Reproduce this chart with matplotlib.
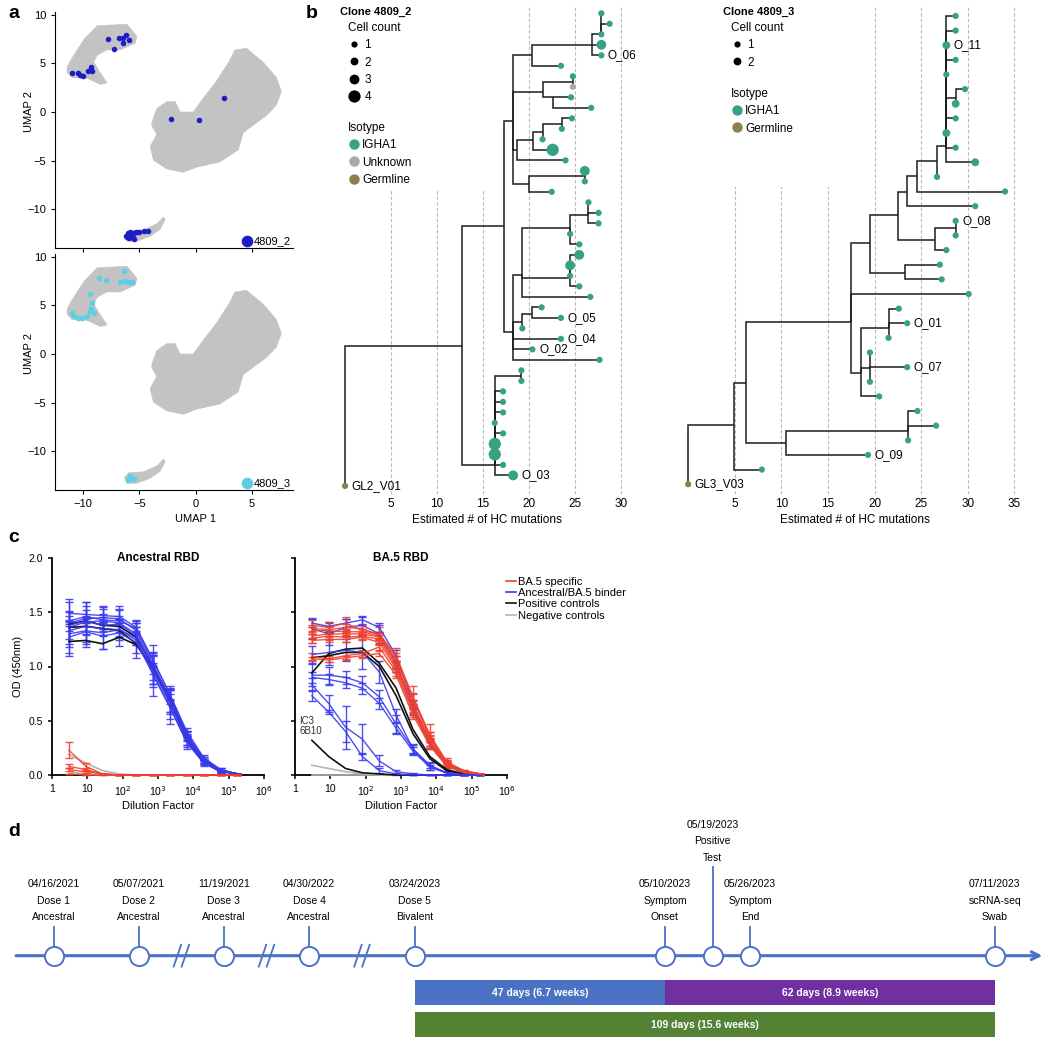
import numpy as np
import matplotlib
matplotlib.use('Agg')
import matplotlib.pyplot as plt
from matplotlib.lines import Line2D
from matplotlib.patches import Rectangle
from matplotlib.ticker import NullLocator
import pandas as pd

plt.rcParams['font.family'] = ['Liberation Sans', 'DejaVu Sans']
plt.rcParams['font.size'] = 8

# ---------------- panel a : UMAP ----------------
# gray cell clouds, outlines
cloud_x = [
    [-11.42, -11.12, -9.94, -8.76, -6.11, -5.22, -5.37, -6.7, -7.88, -8.76, -9.06, -8.6, -7.88, -8.47, -9.65, -10.97, -11.42],
    [-3.89, -3.45, -2.57, -1.83, -1.39, -0.21, 0.68, 1.86, 3.04, 3.48, 4.51, 5.99, 7.17, 7.61, 7.17, 6.28, 4.22, 3.78, 2.15, 0.09, -1.09, -2.57, -3.75, -4.04, -3.45, -3.89],
    [-6.34, -5.96, -4.63, -3.45, -2.86, -2.71, -3.16, -4.04, -5.22, -6.11],
]
cloud_y = [
    [4.6, 5.3, 7.45, 8.87, 9.04, 7.8, 7.1, 6.4, 6.4, 5.85, 5.14, 4.26, 3.0, 2.84, 3.48, 3.55, 4.08],
    [-1.06, 0.35, 1.06, 1.06, 0.0, 0.0, 1.42, 3.19, 5.32, 6.38, 6.56, 5.14, 3.55, 2.13, 0.71, -0.35, -2.13, -3.9, -5.14, -5.67, -6.2, -5.85, -4.96, -3.55, -2.3, -1.42],
    [-12.77, -12.23, -12.13, -11.52, -10.82, -11.06, -12.06, -12.77, -13.3, -13.3],
]
clone2_x = [-7.8, -7.3, -6.8, -6.5, -6.2, -6.45, -5.95, -11.0, -10.5, -10.25, -10.0, -9.6, -9.3, -9.2,
            -2.2, 0.3, 2.55, -6.2, -6.0, -5.8, -5.6, -5.5, -5.9, -6.1, -5.7, -5.3, -5.0, -4.6, -4.2, -5.5]
clone2_y = [7.55, 6.45, 7.6, 7.6, 7.9, 7.1, 7.45, 4.0, 4.0, 3.8, 3.7, 4.2, 4.6, 4.25,
            -0.7, -0.8, 1.4, -12.8, -12.5, -12.4, -12.6, -13.1, -13.0, -12.9, -12.8, -12.4, -12.35, -12.3, -12.3, -12.5]
clone3_x = [-6.4, -8.6, -8.0, -6.7, -6.25, -5.95, -5.65, -9.35, -9.2, -9.35, -11.0, -10.5, -10.1, -9.7,
            -9.05, -9.3, -10.8, -5.65, -5.8, -5.5, -5.9, -6.0]
clone3_y = [8.5, 7.8, 7.6, 7.45, 7.5, 7.45, 7.4, 6.2, 5.3, 4.4, 4.25, 3.7, 3.7, 3.9,
            4.25, 4.6, 3.9, -12.75, -12.6, -12.9, -12.8, -13.0]

# ---------------- panel b : lineage trees ----------------
# internal nodes: name, parent, mutations, vertical position (tip rows)
node2_name = ['root', 'R1', 'T8', 'T4', 'T3', 'T2', 'T1', 'T5', 'T5a', 'T5b', 'T6', 'T6a', 'T6b', 'T6c',
              'T7', 'T7a', 'T9', 'T10', 'T10a', 'T10c', 'T10b', 'T11', 'T11a', 'T12', 'T12a']
node2_parent = [None, 'root', 'R1', 'T8', 'T4', 'T3', 'T2', 'T4', 'T5', 'T5', 'T4', 'T6', 'T6a', 'T6b',
                'T4', 'T7', 'T8', 'T9', 'T10', 'T10a', 'T10', 'T9', 'T11', 'R1', 'T12']
node2_mut = [0, 12.7, 17.3, 18.3, 20.3, 26.85, 27.9, 21.5, 24.8, 22.6, 18.7, 20.5, 21.5, 23.6,
             20.0, 26.1, 18.3, 19.3, 24.5, 26.5, 24.5, 19.3, 20.4, 16.3, 19.2]
node2_row = [45, 31.65, 20.3, 10.3, 4.0, 3.0, 2.0, 7.46, 6.5, 8.0, 13.0, 12.1, 11.3, 10.5,
             16.25, 15.5, 30.3, 24.9, 20.4, 19.2, 25.2, 29.4, 28.6, 43.0, 34.5]
# tips, top to bottom
tip2_parent = ['T1', 'T1', 'T1', 'T2', 'T2', 'T3', 'T5a', 'T5a', 'T5b', 'T5b',
               'T6c', 'T6c', 'T6b', 'T6a', 'T6', 'T7a', 'T7a', 'T7', 'T10c', 'T10c',
               'T10c', 'T10a', 'T10a', 'T10b', 'T10b', 'T10b', 'T10b', 'T10', 'T11a', 'T11a',
               'T11', 'T9', 'T9', 'T9', 'T12a', 'T12a', 'T12', 'T12', 'T12', 'T12',
               'T12', 'T12', 'T12', 'T12', 'T12', 'root']
tip2_mut = [27.9, 28.8, 27.9, 27.9, 27.9, 23.5, 24.8, 24.8, 24.6, 26.8,
            24.7, 23.6, 21.5, 22.6, 24.0, 26.1, 26.1, 22.5, 26.5, 27.6,
            27.6, 24.5, 25.5, 25.5, 24.5, 24.5, 25.5, 26.7, 21.4, 23.5,
            19.3, 23.5, 20.4, 27.7, 19.2, 19.2, 17.2, 17.2, 17.2, 16.3,
            17.2, 16.3, 16.3, 17.2, 18.3, 0]
tip2_count = [1, 1, 1, 3, 1, 1, 1, 1, 1, 1,
              1, 1, 1, 4, 1, 3, 1, 1, 1, 1,
              1, 1, 1, 3, 3, 1, 1, 1, 1, 1,
              1, 1, 1, 1, 1, 1, 1, 1, 1, 1,
              1, 4, 4, 1, 3, 1]
tip2_iso = list('AAAAAAAUAA' 'AAAAAAAAAA' 'AAAAAAAAAA' 'AAAAAAAAAA' 'AAAAAG')
tip2_lab_idx = [4, 29, 31, 32, 44, 45]
tip2_lab = ['O_06', 'O_05', 'O_04', 'O_02', 'O_03', 'GL2_V01']

node3_name = ['root', 'P', 'L', 'I', 'G', 'E', 'D', 'C', 'B', 'A', 'A1', 'F', 'F1', 'H', 'N', 'J', 'M', 'O', 'Q']
node3_parent = [None, 'root', 'P', 'L', 'I', 'G', 'E', 'D', 'C', 'B', 'A', 'E', 'F', 'G', 'I', 'N', 'N', 'L', 'O']
node3_mut = [0, 4.9, 6.2, 17.5, 19.5, 22.5, 23.5, 24.6, 26.7, 27.7, 28.7, 26.5, 28.7, 23.3, 18.5, 21.5, 19.5, 10.5, 23.6]
node3_row = [32, 27.96, 25.06, 20.9, 15.5, 13.6, 12.0, 10.96, 9.9, 8.9, 5.6, 15.3, 14.5, 17.6, 24.4, 21.3, 24.06, 29.2, 28.35]
tip3_parent = ['A', 'A', 'A', 'A', 'A', 'A1', 'A1', 'A', 'A', 'A',
               'A', 'B', 'C', 'D', 'F1', 'F1', 'F', 'H', 'H', 'I',
               'J', 'J', 'J', 'M', 'M', 'M', 'N', 'Q', 'Q', 'Q',
               'O', 'P', 'root']
tip3_mut = [28.7, 28.7, 27.7, 28.7, 27.7, 29.7, 28.7, 28.7, 27.7, 28.7,
            30.8, 26.7, 34.0, 30.8, 28.7, 28.7, 27.7, 27.0, 27.2, 30.1,
            22.6, 23.5, 21.5, 19.5, 23.5, 19.5, 20.5, 24.6, 26.6, 23.6,
            19.3, 7.9, 0]
tip3_count = [1, 1, 2, 1, 1, 1, 2, 1, 2, 1,
              2, 1, 1, 1, 1, 1, 1, 1, 1, 1,
              1, 1, 1, 1, 1, 1, 1, 1, 1, 1,
              1, 1, 1]
tip3_iso = list('AAAAAAAAAA' 'AAAAAAAAAA' 'AAAAAAAAAA' 'AAG')
tip3_lab_idx = [2, 14, 21, 24, 30, 32]
tip3_lab = ['O_11', 'O_08', 'O_01', 'O_07', 'O_09', 'GL3_V03']

iso_names = {'A': 'IGHA1', 'U': 'Unknown', 'G': 'Germline'}
iso_colors = {'A': '#36a184', 'U': '#a9a9a9', 'G': '#8e804c'}
count_size = {1: 20, 2: 32, 3: 50, 4: 78}

# ---------------- panel c : ELISA ----------------
dilution = [3, 9, 27, 81, 243, 729, 2187, 6561, 19683, 59049, 177147]

anc_binder = [
    [1.49, 1.48, 1.47, 1.46, 1.36, 1.06, 0.74, 0.40, 0.16, 0.05, 0.01],
    [1.40, 1.44, 1.45, 1.44, 1.33, 1.02, 0.70, 0.36, 0.14, 0.04, 0.01],
    [1.36, 1.41, 1.42, 1.40, 1.30, 1.00, 0.68, 0.34, 0.13, 0.04, 0.01],
    [1.30, 1.33, 1.31, 1.34, 1.24, 0.96, 0.66, 0.32, 0.12, 0.04, 0.01],
    [1.38, 1.42, 1.38, 1.39, 1.28, 0.98, 0.70, 0.35, 0.13, 0.04, 0.01],
    [1.27, 1.32, 1.28, 1.31, 1.22, 0.93, 0.63, 0.30, 0.11, 0.03, 0.01],
    [1.42, 1.46, 1.43, 1.42, 1.35, 1.05, 0.74, 0.38, 0.15, 0.05, 0.01],
    [1.33, 1.37, 1.35, 1.34, 1.26, 0.92, 0.62, 0.30, 0.11, 0.03, 0.01],
]
anc_binder_sd = [
    [0.10, 0.08, 0.06, 0.06, 0.06, 0.05, 0.04, 0.03, 0.02, 0.01, 0.0],
    [0.22, 0.15, 0.10, 0.12, 0.10, 0.18, 0.12, 0.05, 0.03, 0.01, 0.0],
    [0.15, 0.18, 0.14, 0.13, 0.10, 0.12, 0.10, 0.06, 0.02, 0.01, 0.0],
    [0.20, 0.12, 0.15, 0.10, 0.12, 0.15, 0.14, 0.04, 0.02, 0.01, 0.0],
    [0.05, 0.05, 0.05, 0.05, 0.05, 0.05, 0.05, 0.03, 0.02, 0.01, 0.0],
    [0.15, 0.14, 0.12, 0.12, 0.14, 0.20, 0.16, 0.06, 0.03, 0.01, 0.0],
    [0.05, 0.06, 0.05, 0.05, 0.05, 0.05, 0.05, 0.03, 0.02, 0.01, 0.0],
    [0.08, 0.07, 0.06, 0.06, 0.06, 0.08, 0.06, 0.04, 0.02, 0.01, 0.0],
]
anc_pos = [
    [1.39, 1.42, 1.38, 1.37, 1.27, 1.00, 0.70, 0.34, 0.13, 0.04, 0.01],
    [1.36, 1.37, 1.35, 1.33, 1.21, 0.97, 0.68, 0.33, 0.12, 0.04, 0.01],
    [1.23, 1.24, 1.21, 1.27, 1.20, 0.99, 0.71, 0.36, 0.14, 0.04, 0.01],
]
anc_specific = [
    [0.23, 0.08, 0.01, 0.0, 0.0, 0.0, 0.0, 0.0, 0.0, 0.0, 0.0],
    [0.08, 0.05, 0.01, 0.0, 0.0, 0.0, 0.0, 0.0, 0.0, 0.0, 0.0],
    [0.05, 0.03, 0.01, 0.0, 0.0, 0.0, 0.0, 0.0, 0.0, 0.0, 0.0],
    [0.01, 0.0, 0.0, 0.0, 0.0, 0.0, 0.0, 0.0, 0.0, 0.0, 0.0],
]
anc_specific_sd = [
    [0.07, 0.03, 0.0, 0.0, 0.0, 0.0, 0.0, 0.0, 0.0, 0.0, 0.0],
    [0.02, 0.01, 0.0, 0.0, 0.0, 0.0, 0.0, 0.0, 0.0, 0.0, 0.0],
    [0.01, 0.01, 0.0, 0.0, 0.0, 0.0, 0.0, 0.0, 0.0, 0.0, 0.0],
    [0.0, 0.0, 0.0, 0.0, 0.0, 0.0, 0.0, 0.0, 0.0, 0.0, 0.0],
]
anc_neg = [
    [0.19, 0.11, 0.04, 0.01, 0.0],
    [0.03, 0.01, 0.0, 0.0, 0.0],
]

ba5_specific = [
    [1.38, 1.36, 1.40, 1.33, 1.30, 1.10, 0.72, 0.37, 0.12, 0.04, 0.01],
    [1.33, 1.33, 1.32, 1.32, 1.28, 1.05, 0.70, 0.35, 0.11, 0.03, 0.01],
    [1.28, 1.30, 1.30, 1.30, 1.27, 1.02, 0.65, 0.33, 0.10, 0.03, 0.01],
    [1.26, 1.28, 1.27, 1.28, 1.25, 1.00, 0.62, 0.31, 0.10, 0.03, 0.01],
    [1.24, 1.25, 1.25, 1.27, 1.22, 0.98, 0.60, 0.30, 0.09, 0.03, 0.01],
    [1.09, 1.07, 1.10, 1.12, 1.18, 0.95, 0.58, 0.29, 0.09, 0.03, 0.01],
    [1.07, 1.06, 1.08, 1.10, 1.12, 0.92, 0.55, 0.27, 0.08, 0.02, 0.01],
    [1.35, 1.34, 1.36, 1.35, 1.29, 1.08, 0.70, 0.36, 0.12, 0.04, 0.01],
]
ba5_specific_sd = [
    [0.05, 0.05, 0.06, 0.05, 0.06, 0.07, 0.10, 0.10, 0.04, 0.01, 0.0],
    [0.03, 0.03, 0.03, 0.03, 0.03, 0.05, 0.06, 0.05, 0.03, 0.01, 0.0],
    [0.02, 0.02, 0.02, 0.02, 0.02, 0.03, 0.04, 0.03, 0.02, 0.01, 0.0],
    [0.04, 0.04, 0.04, 0.04, 0.04, 0.05, 0.06, 0.06, 0.03, 0.01, 0.0],
    [0.02, 0.02, 0.02, 0.02, 0.02, 0.03, 0.03, 0.03, 0.02, 0.01, 0.0],
    [0.03, 0.03, 0.03, 0.03, 0.03, 0.04, 0.05, 0.05, 0.03, 0.01, 0.0],
    [0.02, 0.02, 0.02, 0.02, 0.02, 0.03, 0.03, 0.03, 0.02, 0.01, 0.0],
    [0.03, 0.03, 0.03, 0.03, 0.03, 0.04, 0.05, 0.04, 0.02, 0.01, 0.0],
]
ba5_binder = [
    [1.40, 1.37, 1.40, 1.43, 1.36, 1.10, 0.65, 0.30, 0.10, 0.03, 0.01],
    [1.35, 1.30, 1.36, 1.38, 1.30, 1.04, 0.60, 0.28, 0.09, 0.02, 0.01],
    [1.11, 1.13, 1.15, 1.13, 0.95, 0.55, 0.24, 0.09, 0.02, 0.0, 0.0],
    [0.92, 0.92, 0.90, 0.85, 0.72, 0.47, 0.24, 0.08, 0.02, 0.0, 0.0],
    [0.90, 0.88, 0.85, 0.80, 0.66, 0.43, 0.22, 0.07, 0.02, 0.0, 0.0],
    [0.83, 0.66, 0.44, 0.33, 0.13, 0.03, 0.01, 0.0, 0.0, 0.0, 0.0],
    [0.73, 0.58, 0.40, 0.17, 0.04, 0.01, 0.0, 0.0, 0.0, 0.0, 0.0],
]
ba5_binder_sd = [
    [0.04, 0.04, 0.04, 0.04, 0.04, 0.05, 0.04, 0.03, 0.02, 0.01, 0.0],
    [0.10, 0.10, 0.08, 0.08, 0.08, 0.06, 0.05, 0.03, 0.02, 0.01, 0.0],
    [0.08, 0.12, 0.10, 0.15, 0.10, 0.06, 0.05, 0.03, 0.02, 0.0, 0.0],
    [0.10, 0.08, 0.06, 0.06, 0.06, 0.08, 0.04, 0.03, 0.02, 0.0, 0.0],
    [0.05, 0.05, 0.05, 0.05, 0.05, 0.05, 0.04, 0.02, 0.01, 0.0, 0.0],
    [0.06, 0.08, 0.20, 0.14, 0.05, 0.02, 0.01, 0.0, 0.0, 0.0, 0.0],
    [0.05, 0.02, 0.10, 0.03, 0.02, 0.01, 0.0, 0.0, 0.0, 0.0, 0.0],
]
ba5_pos = [
    [0.94, 1.12, 1.16, 1.17, 1.03, 0.80, 0.42, 0.17, 0.05, 0.01, 0.0],
    [1.08, 1.10, 1.13, 1.13, 1.00, 0.73, 0.38, 0.15, 0.04, 0.01, 0.0],
    [0.32, 0.17, 0.06, 0.02, 0.01, 0.0, 0.0, 0.0, 0.0, 0.0, 0.0],
]
ba5_neg = [
    [0.09, 0.06, 0.03, 0.01, 0.0, 0.0, 0.0, 0.0, 0.0, 0.0, 0.0],
    [0.0, 0.0, 0.0, 0.0, 0.0, 0.0, 0.0, 0.0, 0.0, 0.0, 0.0],
]
elisa_groups = ['BA.5 specific', 'Ancestral/BA.5 binder', 'Positive controls', 'Negative controls']
elisa_colors = ['#f0402e', '#3a3af0', '#111111', '#b4b4b4']

# ---------------- panel d : timeline ----------------
event_date = ['04/16/2021', '05/07/2021', '11/19/2021', '04/30/2022', '03/24/2023',
              '05/10/2023', '05/19/2023', '05/26/2023', '07/11/2023']
event_name = ['Dose 1', 'Dose 2', 'Dose 3', 'Dose 4', 'Dose 5', 'Symptom', 'Positive', 'Symptom', 'scRNA-seq']
event_detail = ['Ancestral', 'Ancestral', 'Ancestral', 'Ancestral', 'Bivalent', 'Onset', 'Test', 'End', 'Swab']
event_raised = [0, 0, 0, 0, 0, 0, 1, 0, 0]
bar_from = ['03/24/2023', '05/10/2023', '03/24/2023']
bar_to = ['05/10/2023', '07/11/2023', '07/11/2023']
bar_colors = ['#4a72c4', '#7030a0', '#548235']

W, H = 1050, 1039
fig = plt.figure(figsize=(W / 100, H / 100), dpi=100)


def box(l, t, r, b):
    return [l / W, 1 - b / H, (r - l) / W, (b - t) / H]


for lab, (x, y) in zip('abcd', [(8, 14), (306, 14), (8, 538), (8, 832)]):
    fig.text(x / W, 1 - y / H, lab, fontsize=14, fontweight='bold', va='center', ha='left')

# ---- a
for k, (px, py, col, name) in enumerate([(clone2_x, clone2_y, '#1d1dc8', '4809_2'),
                                          (clone3_x, clone3_y, '#5ccfe2', '4809_3')]):
    top = 12 + k * 242
    ax = fig.add_axes(box(55, top, 293, top + 236))
    for cx, cy in zip(cloud_x, cloud_y):
        ax.fill(cx, cy, color='#c3c3c3', lw=0.5, ec='#c3c3c3', zorder=1)
    ax.scatter(px, py, s=16, color=col, lw=0, zorder=3)
    ax.scatter([], [], s=70, color=col, lw=0, label=name)
    ax.legend(loc='lower right', frameon=False, handletextpad=0.0, borderpad=0.1,
              borderaxespad=0.1, fontsize=8, handlelength=1.2)
    ax.set_xlim(-12.5, 8.65)
    ax.set_ylim(-14.0, 10.3)
    ax.set_xticks([-10, -5, 0, 5])
    ax.set_yticks([-10, -5, 0, 5, 10])
    ax.spines[['top', 'right']].set_visible(False)
    ax.tick_params(labelsize=8, length=3)
    ax.set_ylabel('UMAP 2', fontsize=8)
    ax.yaxis.set_label_coords(-0.09, 0.58)
    if k == 0:
        ax.tick_params(labelbottom=False)
    else:
        ax.set_xlabel('UMAP 1', fontsize=8, labelpad=2)
        ax.xaxis.set_label_coords(0.59, -0.1)


# ---- b
def edge(ax, p, c):
    ax.plot([p[0], p[0], c[0]], [p[1], c[1], c[1]], color='#1c1c1c', lw=1.1, zorder=3,
            solid_joinstyle='miter', solid_capstyle='butt')


def draw_tree(ax, nn, npar, nmut, nrow, tpar, tmut, tcount, tiso, lidx, ltxt):
    pos = {n: (m, r) for n, m, r in zip(nn, nmut, nrow)}
    for n, p in zip(nn, npar):
        if p is not None:
            edge(ax, pos[p], pos[n])
    rows = np.arange(len(tpar))
    for r, p, m in zip(rows, tpar, tmut):
        edge(ax, pos[p], (m, r))
    ax.scatter(tmut, rows, s=[count_size[c] for c in tcount],
               c=[iso_colors[i] for i in tiso], lw=0, zorder=4)
    for i, t in zip(lidx, ltxt):
        off = np.sqrt(count_size[tcount[i]]) / 2 + 2.5
        ax.annotate(t, (tmut[i], rows[i]), xytext=(off, 0), textcoords='offset points',
                    va='center', ha='left', fontsize=8.5, zorder=5)


def tree_legend(ax, title, x, y_title, y_count, y_iso, counts, isos):
    fig.text(x / W, 1 - y_title / H, title, fontsize=8, fontweight='bold', va='center', ha='left')
    hs = [Line2D([], [], ls='', marker='o', color='black', mew=0, markersize=np.sqrt(count_size[c]))
          for c in counts]
    l1 = ax.legend(hs, [str(c) for c in counts], title='Cell count', loc='upper left',
                   bbox_to_anchor=((x + 8) / W, 1 - y_count / H), bbox_transform=fig.transFigure,
                   frameon=False, alignment='left', handlelength=1.1, handletextpad=0.3,
                   labelspacing=0.45, borderpad=0, borderaxespad=0, fontsize=8.5, title_fontsize=8.5)
    ax.add_artist(l1)
    hs = [Line2D([], [], ls='', marker='o', color=iso_colors[i], mew=0, markersize=7.5) for i in isos]
    ax.legend(hs, [iso_names[i] for i in isos], title='Isotype', loc='upper left',
              bbox_to_anchor=((x + 8) / W, 1 - y_iso / H), bbox_transform=fig.transFigure,
              frameon=False, alignment='left', handlelength=1.1, handletextpad=0.1,
              labelspacing=0.45, borderpad=0, borderaxespad=0, fontsize=8.5, title_fontsize=8.5)


for (l, r, xr, nrows, ticks, cover, tree, leg) in [
        (334, 639, (-1.2, 32), (45.77, -0.79), [5, 10, 15, 20, 25, 30], 16.8,
         (node2_name, node2_parent, node2_mut, node2_row, tip2_parent, tip2_mut, tip2_count, tip2_iso,
          tip2_lab_idx, tip2_lab),
         ('Clone 4809_2', 340, 12, 22, 122, [1, 2, 3, 4], ['A', 'U', 'G'])),
        (677, 1033, (-1.2, 37), (32.67, -0.75), [5, 10, 15, 20, 25, 30, 35], 11.7,
         (node3_name, node3_parent, node3_mut, node3_row, tip3_parent, tip3_mut, tip3_count, tip3_iso,
          tip3_lab_idx, tip3_lab),
         ('Clone 4809_3', 723, 12, 22, 88, [1, 2], ['A', 'G']))]:
    ax = fig.add_axes(box(l, 5, r, 494))
    ax.set_xlim(*xr)
    ax.set_ylim(*nrows)
    for g in ticks:
        ax.axvline(g, color='#b8b8b8', lw=0.8, ls=(0, (3, 2)), zorder=0)
    ax.add_patch(Rectangle((xr[0], nrows[1]), 19 - xr[0], cover - nrows[1], facecolor='white',
                           edgecolor='none', zorder=1))
    draw_tree(ax, *tree)
    tree_legend(ax, *leg)
    ax.set_xticks(ticks)
    ax.set_yticks([])
    ax.tick_params(length=0, labelsize=8.5, pad=3)
    for s in ax.spines.values():
        s.set_visible(False)
    ax.set_xlabel('Estimated # of HC mutations', fontsize=8.5, labelpad=3)

# ---- c
panels = [
    ('Ancestral RBD', 52, [(anc_neg, None, 3), (anc_binder, anc_binder_sd, 1), (anc_pos, None, 2),
                           (anc_specific, anc_specific_sd, 0)]),
    ('BA.5 RBD', 295, [(ba5_neg, None, 3), (ba5_binder, ba5_binder_sd, 1), (ba5_specific, ba5_specific_sd, 0),
                       (ba5_pos, None, 2)]),
]
for title, left, series in panels:
    ax = fig.add_axes(box(left, 558, left + 212, 775))
    for means, sds, gi in series:
        col = elisa_colors[gi]
        for j, m in enumerate(means):
            xs = dilution[:len(m)]
            if sds is None:
                ax.plot(xs, m, color=col, lw=1.2, clip_on=False, zorder=3)
            else:
                ax.errorbar(xs, m, yerr=sds[j], color=col, lw=1.0, elinewidth=1.0, capsize=2.8,
                            capthick=1.0, clip_on=False, zorder=3, alpha=0.9)
    ax.set_xscale('log')
    ax.set_xlim(1, 1e6)
    ax.set_ylim(0, 2)
    ax.set_xticks([1, 10, 1e2, 1e3, 1e4, 1e5, 1e6])
    ax.set_xticklabels(['1', '10', '10$^2$', '10$^3$', '10$^4$', '10$^5$', '10$^6$'])
    ax.xaxis.set_minor_locator(NullLocator())
    ax.set_yticks([0, 0.5, 1.0, 1.5, 2.0])
    ax.spines[['top', 'right']].set_visible(False)
    ax.spines[['left', 'bottom']].set_linewidth(1.3)
    ax.tick_params(labelsize=7.5, length=3, width=1.1)
    ax.set_xlabel('Dilution Factor', fontsize=8, labelpad=2)
    ax.text(0.5, 1.0, title, transform=ax.transAxes, ha='center', va='center',
            fontsize=8.5, fontweight='bold')
    if left == 52:
        ax.set_ylabel('OD (450nm)', fontsize=8)
    else:
        ax.tick_params(labelleft=False)
        ax.text(1.35, 0.36, 'IC3\n6B10', fontsize=7, color='#333333', va='bottom', linespacing=0.95)

hs = [Line2D([], [], color=c, lw=1.2) for c in elisa_colors]
fig.legend(hs, elisa_groups, loc='upper left', bbox_to_anchor=(500 / W, 1 - 571 / H), frameon=False,
           handlelength=0.9, handletextpad=0.2, labelspacing=0.12, fontsize=8, borderpad=0)

# ---- d
ax = fig.add_axes([0, 0, 1, (1039 - 800) / 1039])
ax.set_xlim(-78.0, 119.4)
ax.set_ylim(1041, 800)
ax.axis('off')
dates = pd.to_datetime(event_date, format='%m/%d/%Y')
origin = pd.Timestamp('2023-03-24')
days = np.array((dates - origin).days, dtype=float)
n_pre = int((days < 0).sum())
# earlier doses sit on a compressed (broken) stretch of the axis
slot_gap, slot_last = 16.0, -19.9
xpos = days.copy()
xpos[:n_pre] = slot_last - slot_gap * np.arange(n_pre - 1, -1, -1)
blue = '#4a72c8'
line_y = 957
ax.annotate('', xy=(118.5, line_y), xytext=(-75.5, line_y),
            arrowprops=dict(arrowstyle='->', color=blue, lw=2.2, mutation_scale=14))
for a, b in [(1, 2), (2, 3), (3, 4)]:
    m = (xpos[a] + xpos[b]) / 2
    for off in (-0.75, 0.75):
        ax.plot([m + off - 0.7, m + off + 0.7], [line_y + 11, line_y - 11], color=blue, lw=1.3, zorder=4)
ax.scatter(xpos, [line_y] * len(xpos), s=190, facecolor='white', edgecolor=blue, lw=1.4, zorder=5)
for x, d, n, t, r in zip(xpos, event_date, event_name, event_detail, event_raised):
    y0 = 825 if r else 885
    ax.plot([x, x], [y0 + 43 if not r else 868, line_y - 10], color=blue, lw=1.3, zorder=3)
    for k, s in enumerate([d, n, t]):
        ax.text(x, y0 + 16.5 * k, s, ha='center', va='center', fontsize=7.5)
bf = np.array((pd.to_datetime(bar_from, format='%m/%d/%Y') - origin).days, dtype=float)
bt = np.array((pd.to_datetime(bar_to, format='%m/%d/%Y') - origin).days, dtype=float)
for i, (s, e, c) in enumerate(zip(bf, bt, bar_colors)):
    yc = 994.5 if i < 2 else 1026.5
    ax.barh(yc, e - s, left=s, height=25, color=c, zorder=2)
    n = int(e - s)
    ax.text((s + e) / 2, yc, f'{n} days ({n / 7:.1f} weeks)', color='white', fontweight='bold',
            ha='center', va='center', fontsize=7.5, zorder=3)

fig.savefig('out.png', dpi=100)
